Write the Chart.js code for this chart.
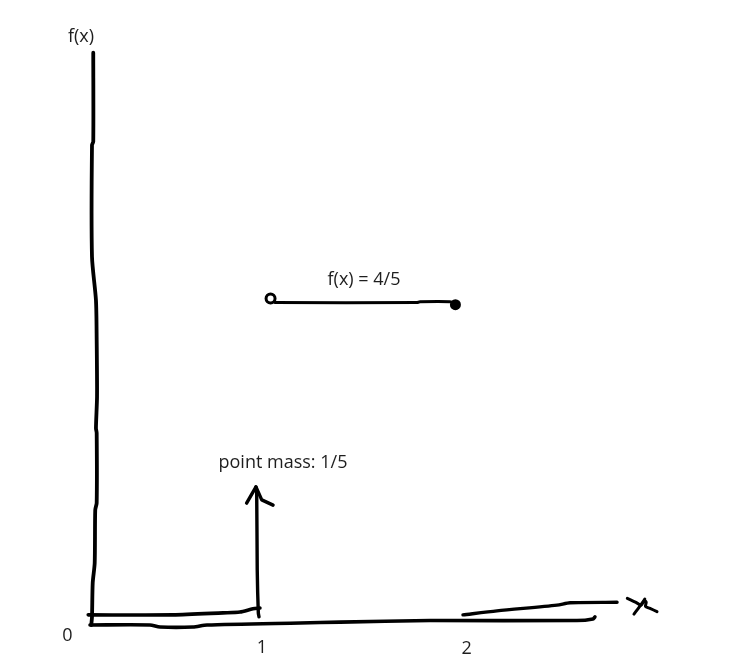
<!DOCTYPE html>
<html>
<head>
<meta charset="utf-8">
<script src="https://cdn.jsdelivr.net/npm/chart.js@4/dist/chart.umd.min.js"></script>
<style>
  html, body { margin: 0; padding: 0; background: #ffffff; }
  #wrap { width: 732px; height: 665px; position: relative; }
</style>
</head>
<body>
<div id="wrap"><canvas id="c"></canvas></div>
<script>
// ---- Data (sketch units: x in x-units, y in density units) ----
// Hand-drawn vertical axis (f(x))
const yAxisStrokeX = [0.007, 0.007, 0.000, 0.000, 0.022, 0.026, 0.028, 0.022, 0.026, 0.026, 0.018, 0.015, 0.004, 0.000, -0.004];
const yAxisStrokeY = [1.413, 1.193, 1.185, 0.909, 0.802, 0.704, 0.564, 0.486, 0.474, 0.301, 0.284, 0.153, 0.104, 0.020, 0.000];

// Hand-drawn lower horizontal axis
const xAxisLowX = [-0.011, 0.322, 0.378, 0.561, 0.639, 1.156, 1.378, 1.878, 2.694, 2.783, 2.794];
const xAxisLowY = [0.000, 0.000, -0.005, -0.005, 0.000, 0.005, 0.007, 0.011, 0.011, 0.015, 0.020];

// Upper horizontal stroke, left part (0 up to the point mass)
const xAxisUpLeftX = [-0.021, 0.450, 0.728, 0.822, 0.894, 0.933];
const xAxisUpLeftY = [0.025, 0.025, 0.030, 0.032, 0.040, 0.042];

// Upper horizontal stroke, right part (beyond 2)
const xAxisUpRightX = [2.061, 2.250, 2.583, 2.656, 2.917];
const xAxisUpRightY = [0.025, 0.035, 0.049, 0.055, 0.056];

// Point mass arrow at x = 1
const arrowShaftX = [0.928, 0.924, 0.918, 0.915, 0.911];
const arrowShaftY = [0.020, 0.030, 0.136, 0.326, 0.341];
const arrowHeadX = [0.859, 0.911, 0.943, 1.006];
const arrowHeadY = [0.301, 0.341, 0.309, 0.296];

// Density segment f(x) = 4/5 on (1, 2]
const densityX = [1.017, 1.804, 1.822, 1.989, 2.017];
const densityY = [0.796, 0.796, 0.798, 0.798, 0.793];
const openEndX = [0.992];
const openEndY = [0.806];
const closedEndX = [2.019];
const closedEndY = [0.791];

// Hand-written "x" axis name (two strokes)
const xGlyphAX = [2.974, 3.022, 3.050, 3.069, 3.079, 3.075, 3.100, 3.139];
const xGlyphAY = [0.066, 0.056, 0.049, 0.060, 0.056, 0.046, 0.041, 0.033];
const xGlyphBX = [3.071, 3.056, 3.033, 3.011];
const xGlyphBY = [0.064, 0.054, 0.040, 0.027];

// Text labels
const labelTexts = ["f(x)", "f(x) = 4/5", "point mass: 1/5", "0", "1", "2"];
const labelX = [-0.061, 1.511, 1.061, -0.136, 0.944, 2.081];
const labelY = [1.452, 0.852, 0.400, -0.027, -0.057, -0.059];

// Visible range of the sketch
const xRange = [-0.5111, 3.5556];
const yRange = [-0.09877, 1.54321];

// ---- build ----
function pts(xs, ys) { return xs.map((x, i) => ({ x: x, y: ys[i] })); }
function stroke(xs, ys, w) {
  return {
    data: pts(xs, ys),
    showLine: true,
    borderColor: '#000000',
    borderWidth: w || 3.5,
    borderCapStyle: 'round',
    borderJoinStyle: 'round',
    pointRadius: 0,
    pointHoverRadius: 0,
    tension: 0.25,
    fill: false
  };
}

const datasets = [
  stroke(yAxisStrokeX, yAxisStrokeY, 3.8),
  stroke(xAxisLowX, xAxisLowY, 3.6),
  stroke(xAxisUpLeftX, xAxisUpLeftY, 3.6),
  stroke(xAxisUpRightX, xAxisUpRightY, 3.4),
  stroke(arrowShaftX, arrowShaftY, 3.4),
  Object.assign(stroke(arrowHeadX, arrowHeadY, 3.4), { tension: 0 }),
  stroke(densityX, densityY, 3),
  Object.assign(stroke(xGlyphAX, xGlyphAY, 3), { tension: 0.3 }),
  stroke(xGlyphBX, xGlyphBY, 3),
  {
    data: pts(openEndX, openEndY),
    showLine: false,
    pointRadius: 4.5,
    pointBorderWidth: 3,
    pointBorderColor: '#000000',
    pointBackgroundColor: '#ffffff',
    pointHoverRadius: 4.5
  },
  {
    data: pts(closedEndX, closedEndY),
    showLine: false,
    pointRadius: 5.5,
    pointBorderWidth: 0,
    pointBackgroundColor: '#000000',
    pointHoverRadius: 5.5
  }
];

const textPlugin = {
  id: 'sketchText',
  afterDatasetsDraw(chart) {
    const ctx = chart.ctx;
    const xs = chart.scales.x, ys = chart.scales.y;
    ctx.save();
    ctx.fillStyle = '#1e1e1e';
    ctx.font = '18px "Open Sans", "Noto Sans", sans-serif';
    ctx.textAlign = 'center';
    ctx.textBaseline = 'middle';
    labelTexts.forEach((t, i) => {
      ctx.fillText(t, xs.getPixelForValue(labelX[i]), ys.getPixelForValue(labelY[i]));
    });
    ctx.restore();
  }
};

new Chart(document.getElementById('c'), {
  type: 'scatter',
  data: { datasets: datasets },
  options: {
    responsive: true,
    maintainAspectRatio: false,
    animation: false,
    layout: { padding: 0, autoPadding: false },
    plugins: { legend: { display: false }, tooltip: { enabled: false }, title: { display: false } },
    events: [],
    scales: {
      x: { type: 'linear', min: xRange[0], max: xRange[1], display: false },
      y: { type: 'linear', min: yRange[0], max: yRange[1], display: false }
    }
  },
  plugins: [textPlugin]
});
</script>
</body>
</html>
